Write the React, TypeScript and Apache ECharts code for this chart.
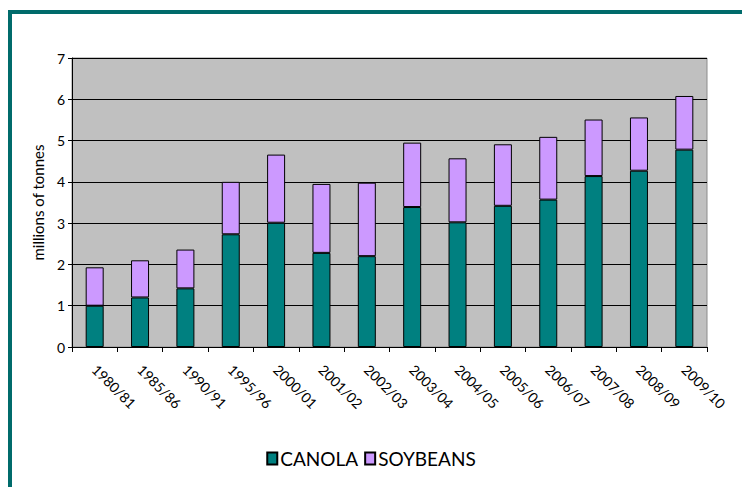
import React, { useEffect, useRef } from "react";
import * as echarts from "echarts";

const categories = [
  "1980/81", "1985/86", "1990/91", "1995/96", "2000/01", "2001/02", "2002/03",
  "2003/04", "2004/05", "2005/06", "2006/07", "2007/08", "2008/09", "2009/10",
];
const canola = [1.0, 1.2, 1.42, 2.73, 3.01, 2.28, 2.2, 3.39, 3.02, 3.42, 3.57, 4.14, 4.27, 4.78];
const soybeans = [0.93, 0.9, 0.94, 1.27, 1.65, 1.67, 1.78, 1.56, 1.55, 1.49, 1.52, 1.37, 1.29, 1.3];
const yAxisName = "millions of tonnes";

const FONT = "Lato";

export default function App() {
  const ref = useRef<HTMLDivElement>(null);
  useEffect(() => {
    if (!ref.current) return;
    const chart = echarts.init(ref.current, null, { renderer: "svg" });
    chart.setOption({
      animation: false,
      backgroundColor: "#ffffff",
      textStyle: { fontFamily: FONT, color: "#000" },
      graphic: [
        {
          type: "rect",
          shape: { x: 10, y: 12, width: 900, height: 700 },
          style: { fill: "none", stroke: "#006b6b", lineWidth: 4 },
          silent: true,
        },
      ],
      grid: {
        left: 72,
        right: 35,
        top: 58,
        bottom: 140,
        show: true,
        backgroundColor: "#c0c0c0",
        borderColor: "#8c8c8c",
        borderWidth: 1,
      },
      legend: {
        bottom: 14,
        left: "center",
        itemWidth: 10,
        itemHeight: 12,
        itemGap: 6,
        icon: "rect",
        textStyle: { fontFamily: FONT, fontSize: 19, color: "#000", padding: [0, 0, 0, -2] },
        data: ["CANOLA", "SOYBEANS"],
      },
      xAxis: {
        type: "category",
        data: categories,
        axisLine: { lineStyle: { color: "#000", width: 1 } },
        axisTick: { show: true, length: 5, alignWithLabel: false, lineStyle: { color: "#000" } },
        axisLabel: {
          rotate: -45,
          interval: 0,
          margin: 20,
          fontSize: 14,
          fontFamily: FONT,
          color: "#000",
        },
      },
      yAxis: {
        type: "value",
        min: 0,
        max: 7,
        interval: 1,
        name: yAxisName,
        nameLocation: "middle",
        nameGap: 22,
        nameTextStyle: { fontSize: 15, fontFamily: FONT, color: "#000" },
        axisLine: { show: true, lineStyle: { color: "#000", width: 1 } },
        axisTick: { show: true, length: 4, lineStyle: { color: "#000" } },
        axisLabel: { fontSize: 14, fontFamily: FONT, color: "#000", margin: 7 },
        splitLine: { show: true, lineStyle: { color: "#000", width: 1 } },
      },
      series: [
        {
          name: "CANOLA",
          type: "bar",
          stack: "total",
          barWidth: 18,
          data: canola,
          itemStyle: { color: "#008080", borderColor: "#000", borderWidth: 1 },
        },
        {
          name: "SOYBEANS",
          type: "bar",
          stack: "total",
          barWidth: 18,
          data: soybeans,
          itemStyle: { color: "#cc99ff", borderColor: "#000", borderWidth: 1 },
        },
      ],
    });
    return () => chart.dispose();
  }, []);
  return (
    <div
      ref={ref}
      style={{ position: "fixed", left: 0, top: 0, width: 742, height: 487 }}
    />
  );
}
